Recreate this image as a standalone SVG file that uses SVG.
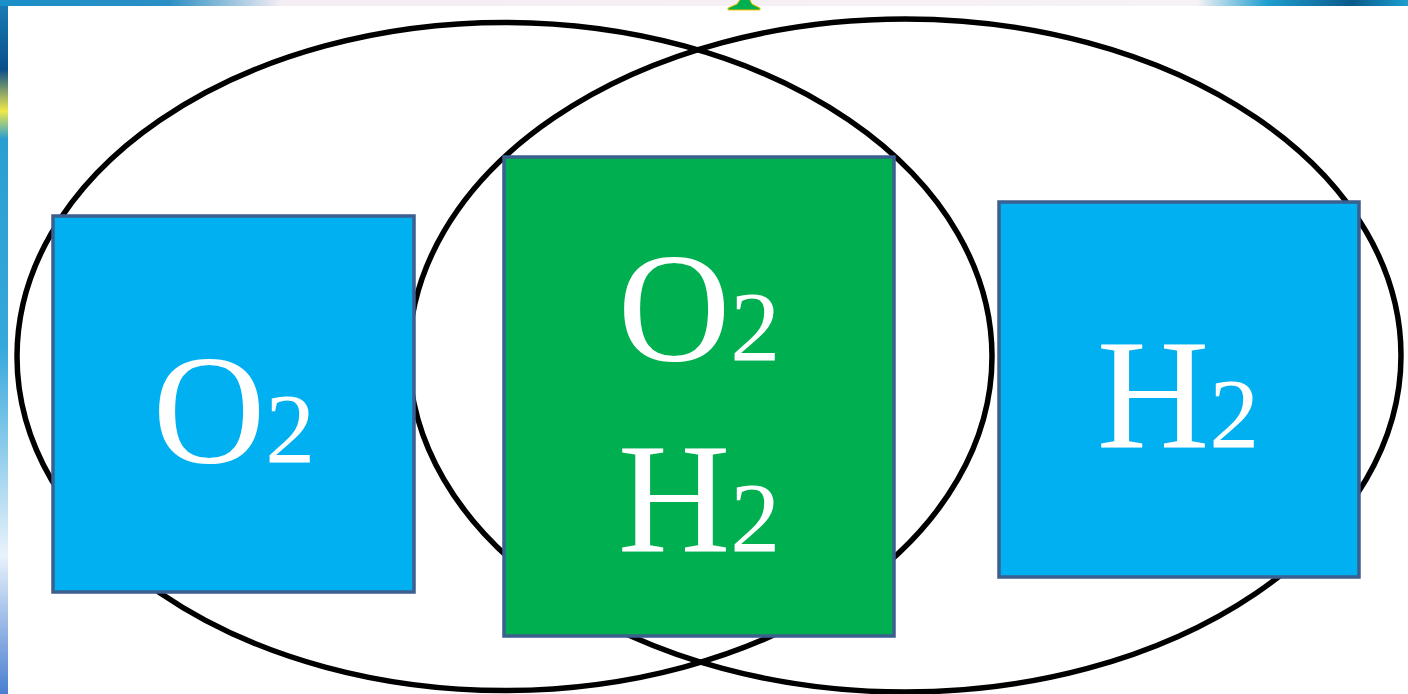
<svg xmlns="http://www.w3.org/2000/svg" width="1408" height="694" viewBox="0 0 1408 694">
  <defs>
    <linearGradient id="leftStrip" x1="0" y1="0" x2="0" y2="1">
      <stop offset="0" stop-color="#1a7fb8"/>
      <stop offset="0.1" stop-color="#0a4f8a"/>
      <stop offset="0.16" stop-color="#f2e84a"/>
      <stop offset="0.2" stop-color="#2a9fd0"/>
      <stop offset="0.5" stop-color="#36a8dc"/>
      <stop offset="0.8" stop-color="#e8f2fb"/>
      <stop offset="1" stop-color="#4a7fd0"/>
    </linearGradient>
    <linearGradient id="topStrip" x1="0" y1="0" x2="1" y2="0">
      <stop offset="0" stop-color="#1a8fc8"/>
      <stop offset="0.12" stop-color="#2b8fc4"/>
      <stop offset="0.2" stop-color="#f4eef4"/>
      <stop offset="0.85" stop-color="#f7f2f6"/>
      <stop offset="0.9" stop-color="#1f9fcf"/>
      <stop offset="0.96" stop-color="#0a5a8a"/>
      <stop offset="1" stop-color="#1a9fd0"/>
    </linearGradient>
    <style>
      .ring { fill: none; stroke: #000000; stroke-width: 5.5; }
      .box { stroke: #3b5f8e; stroke-width: 3.5; }
      .blue { fill: #00b0f0; }
      .green { fill: #00b050; }
      .lbl { font-family: "Liberation Serif", "Times New Roman", serif; fill: #ffffff; text-anchor: middle; }
      .big { font-size: 156px; }
      .small { font-size: 100px; }
    </style>
  </defs>

  <!-- background -->
  <rect x="0" y="0" width="1408" height="694" fill="#ffffff"/>
  <rect x="0" y="0" width="8" height="694" fill="url(#leftStrip)"/>
  <rect x="0" y="0" width="1408" height="6" fill="url(#topStrip)"/>
  <path d="M741,-2 L749,-2 L752,4 L760,8 L760,10 L728,10 L728,8 L737,4 Z" fill="#00b050" stroke="#ffc000" stroke-width="1"/>

  <!-- connectors (ellipses) -->
  <g id="connectors">
    <ellipse class="ring" cx="504.5" cy="356.5" rx="487.5" ry="334"/>
    <ellipse class="ring" cx="905" cy="355.5" rx="496" ry="336.5"/>
  </g>

  <g id="node-o2">
    <rect class="box blue" x="53" y="216" width="361" height="376"/>
    <text class="lbl" x="234" y="462"><tspan class="big">O</tspan><tspan class="small">2</tspan></text>
  </g>

  <g id="node-o2h2">
    <rect class="box green" x="504" y="157" width="390" height="479"/>
    <text class="lbl" x="699" y="360"><tspan class="big">O</tspan><tspan class="small">2</tspan></text>
    <text class="lbl" x="699" y="551"><tspan class="big">H</tspan><tspan class="small">2</tspan></text>
  </g>

  <g id="node-h2">
    <rect class="box blue" x="999" y="202" width="360" height="375"/>
    <text class="lbl" x="1178" y="447"><tspan class="big">H</tspan><tspan class="small">2</tspan></text>
  </g>
</svg>
